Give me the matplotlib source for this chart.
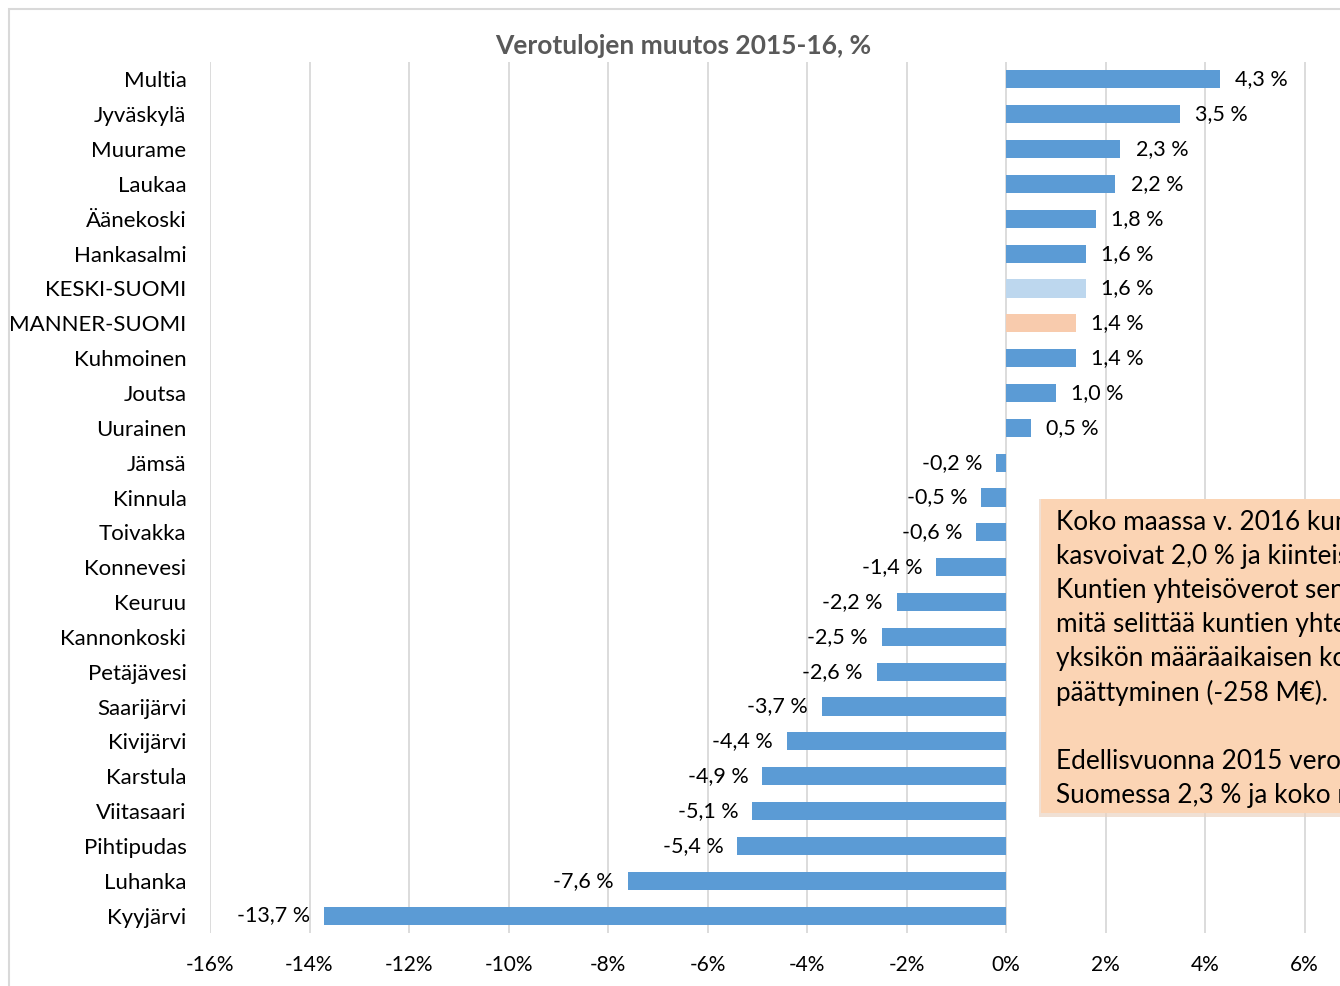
import matplotlib
matplotlib.use("Agg")
import matplotlib.pyplot as plt
from matplotlib.patches import Rectangle

plt.rcParams['font.family'] = ['Lato', 'DejaVu Sans']

categories = ["Multia", "Jyväskylä", "Muurame", "Laukaa", "Äänekoski", "Hankasalmi",
              "KESKI-SUOMI", "MANNER-SUOMI", "Kuhmoinen", "Joutsa", "Uurainen", "Jämsä",
              "Kinnula", "Toivakka", "Konnevesi", "Keuruu", "Kannonkoski", "Petäjävesi",
              "Saarijärvi", "Kivijärvi", "Karstula", "Viitasaari", "Pihtipudas", "Luhanka",
              "Kyyjärvi"]
values = [4.3, 3.5, 2.3, 2.2, 1.8, 1.6, 1.6, 1.4, 1.4, 1.0, 0.5, -0.2, -0.5, -0.6, -1.4,
          -2.2, -2.5, -2.6, -3.7, -4.4, -4.9, -5.1, -5.4, -7.6, -13.7]
highlight = {"KESKI-SUOMI": "#BDD7EE", "MANNER-SUOMI": "#F8CBAD"}
xticks = [-16, -14, -12, -10, -8, -6, -4, -2, 0, 2, 4, 6]
title = "Verotulojen muutos 2015-16, %"
note_lines = ["Koko maassa v. 2016 kunnallisverot",
              "kasvoivat 2,0 % ja kiinteistöverot",
              "Kuntien yhteisöverot sen sijaan",
              "mitä selittää kuntien yhteisöveron",
              "yksikön määräaikaisen korotuksen",
              "päättyminen (-258 M€).",
              "",
              "Edellisvuonna 2015 verotulot",
              "Suomessa 2,3 % ja koko maassa"]

W, H = 1340, 986
fig = plt.figure(figsize=(W / 100, H / 100), dpi=100)

# chart border
fig.patches.append(Rectangle((9 / W, -0.1), 1.2, (H - 9) / H + 0.1, transform=fig.transFigure,
                             fill=False, edgecolor="#D9D9D9", linewidth=1.5))

left, right = 210 / W, 1404 / W
top, bottom = 1 - 62 / H, 1 - 933 / H
ax = fig.add_axes([left, bottom, right - left, top - bottom])

n = len(categories)
ypos = list(range(n))[::-1]
colors = [highlight.get(c, "#5B9BD5") for c in categories]
ax.barh(ypos, values, height=0.52, color=colors, zorder=3)
ax.set_ylim(-0.5, n - 0.5)
ax.set_xlim(-16, 8)
ax.set_xticks(xticks)
ax.set_xticklabels([f"{t}%" for t in xticks], fontsize=15, color="#000000")
ax.set_yticks(ypos)
ax.set_yticklabels(categories, fontsize=16, color="#000000")
ax.tick_params(axis='both', length=0)
ax.tick_params(axis='y', pad=17)
ax.tick_params(axis='x', pad=16)
ax.grid(axis='x', color="#D9D9D9", linewidth=1.3, zorder=0)
for s in ax.spines.values():
    s.set_visible(False)

for y, v in zip(ypos, values):
    lab = f"{v:.1f} %".replace(".", ",")
    if v >= 0:
        ax.annotate(lab, (v, y), xytext=(11, 0), textcoords="offset points",
                    ha="left", va="center", fontsize=15.5)
    else:
        ax.annotate(lab, (v, y), xytext=(-10, 0), textcoords="offset points",
                    ha="right", va="center", fontsize=15.5)

fig.text(683 / W, 1 - 46 / H, title, ha="center", va="center",
         fontsize=19, fontweight="bold", color="#595959")

# note box with shadow
bx, by, bw, bh = 1041 / W, 1 - 813 / H, 0.4, (813 - 499) / H
fig.patches.append(Rectangle((bx - 2 / W, by - 4 / H), bw, bh + 4 / H, transform=fig.transFigure,
                             facecolor="#EAD3C2", edgecolor="none", alpha=0.7, zorder=4))
fig.patches.append(Rectangle((bx, by), bw, bh, transform=fig.transFigure,
                             facecolor="#FBD4B4", edgecolor="none", zorder=5))
for i, line in enumerate(note_lines):
    fig.text(1056 / W, 1 - (522 + i * 34.2) / H, line, ha="left", va="center",
             fontsize=18.8, color="#000000", zorder=6)

fig.savefig("out.png", dpi=100)
